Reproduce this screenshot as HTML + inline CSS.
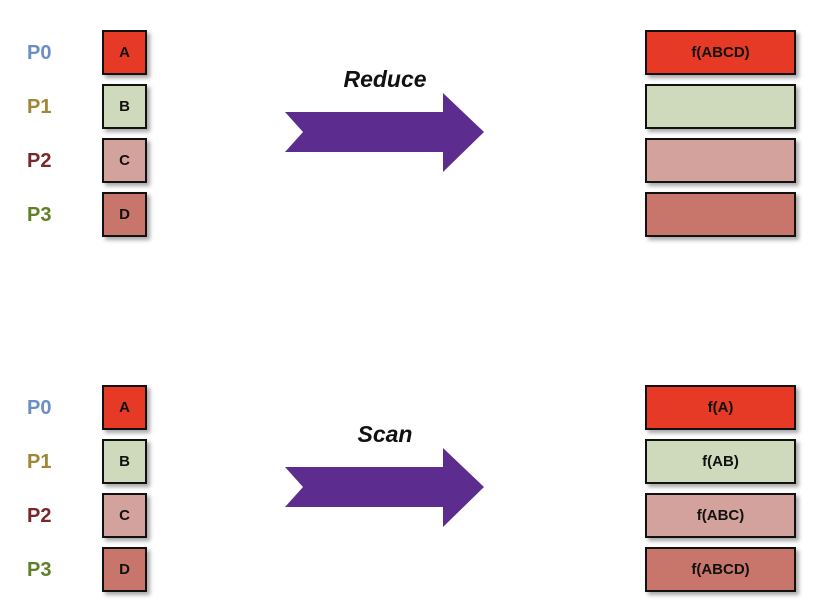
<!DOCTYPE html>
<html><head><meta charset="utf-8"><style>
body{margin:0;width:826px;height:609px;background:#fff;position:relative;overflow:hidden;font-family:"Liberation Sans",sans-serif;font-weight:bold}
.lbl{position:absolute;left:27px;font-size:20px;line-height:44px;height:44px}
.box{position:absolute;border:2px solid #111;box-sizing:border-box;height:45px;text-align:center;line-height:41px;font-size:15px;color:#111;box-shadow:3px 3px 4px rgba(0,0,0,.35)}
.title{position:absolute;font-style:italic;font-size:23px;color:#111;left:335px;width:100px;text-align:center}
</style></head><body>
<div id="root"></div>
<script>
const labels=["P0","P1","P2","P3"];
const labelColors=["#6b8fc2","#a08535","#78282a","#5f8025"];
const inputs=["A","B","C","D"];
const fills=["#e63a26","#cfdabd","#d4a29c","#c8766c"];
const reduceOut=["f(ABCD)","","",""];
const scanOut=["f(A)","f(AB)","f(ABC)","f(ABCD)"];
const root=document.getElementById('root');
function section(top,title,outs,key){
  const t=document.createElement('div');t.className='title';t.style.top=(top+66)+'px';t.textContent=title;
  
  
  root.appendChild(t);
  const ns='http://www.w3.org/2000/svg';
  const s=document.createElementNS(ns,'svg');s.setAttribute('width','826');s.setAttribute('height','200');
  s.style.position='absolute';s.style.left='0';s.style.top=(top+30)+'px';
  const p=document.createElementNS(ns,'polygon');
  p.setAttribute('points','285,82 443,82 443,63 484,102 443,142 443,122 285,122 303,102');
  p.setAttribute('fill','#5c2d8e');
  
  
  s.appendChild(p);root.appendChild(s);
  for(let i=0;i<4;i++){
    const y=top+30+i*54;
    const l=document.createElement('div');l.className='lbl';l.style.top=(y+1)+'px';l.style.color=labelColors[i];l.textContent=labels[i];
    
    
    root.appendChild(l);
    const b=document.createElement('div');b.className='box';b.style.cssText+='left:102px;width:45px;top:'+y+'px;background:'+fills[i];b.textContent=inputs[i];
    
    
    root.appendChild(b);
    const o=document.createElement('div');o.className='box';o.style.cssText+='left:645px;width:151px;top:'+y+'px;background:'+fills[i];o.textContent=outs[i];
    
    
    root.appendChild(o);
  }
}
section(0,'Reduce',reduceOut,'reduce');
section(355,'Scan',scanOut,'scan');
</script>
</body></html>
